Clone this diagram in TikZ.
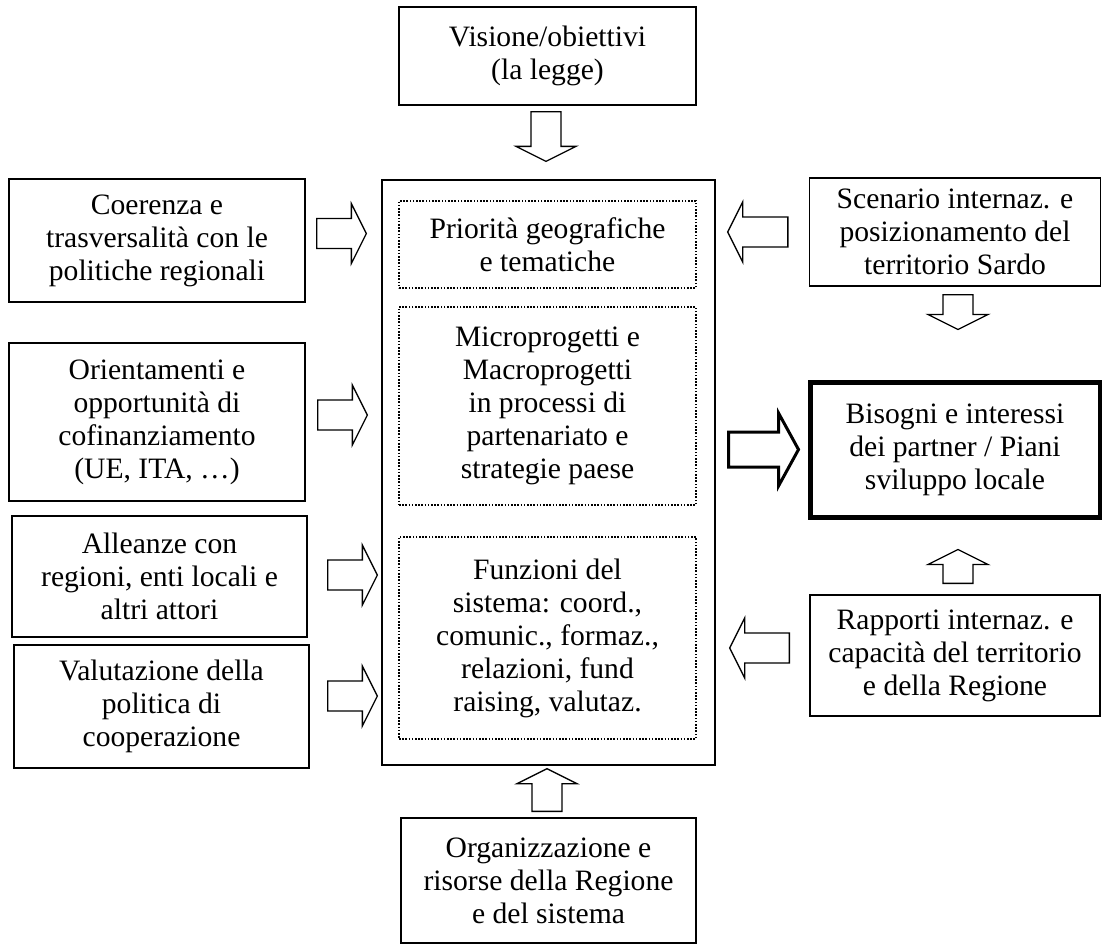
\documentclass[tikz,border=0pt]{standalone}
\usepackage{fontspec}
\setmainfont{Liberation Serif}
\usepackage{tikz}
\usetikzlibrary{calc}

\tikzset{
    box/.style={draw, line width=0.65pt, align=center, inner sep=0pt,
      font=\fontsize{14.8}{16.5}\selectfont},
    dotbox/.style={box, line width=0.8pt, dash pattern=on 0.8pt off 0.8pt},
    boldbox/.style={box, line width=2.5pt},
    wh/.style 2 args={minimum width=#1*0.5pt, minimum height=#2*0.5pt}
}

% block arrow from #2 (tail) to #3 (tip)
\newcommand{\aw}{7.5pt}
\newcommand{\ah}{15pt}
\newcommand{\al}{7.5pt}
\newcommand{\fatarrow}[3][]{%
    \draw[line width=0.65pt, line join=miter, #1] let \p1=(#2), \p2=(#3),
      \n1={veclen(\x2-\x1,\y2-\y1)}, \n2={atan2(\y2-\y1,\x2-\x1)} in
      [shift={(\p1)}, rotate=\n2]
      (0pt,-\aw) -- ({\n1-\al},-\aw) -- ({\n1-\al},-\ah) -- (\n1,0pt)
      -- ({\n1-\al},\ah) -- ({\n1-\al},\aw) -- (0pt,\aw) -- cycle;}

\begin{document}
\begin{tikzpicture}[x=0.5pt, y=-0.5pt]
    \useasboundingbox (0,0) rectangle (1102,944);

    \node[box, wh={297}{98}] (vis) at (547.5,56) {Visione/obiettivi\\(la legge)};

    \node[box, wh={333}{585}] (core) at (548.5,472.5) {};
    \node[dotbox, wh={297}{87}] (prio) at (547.5,244.5)
      {Priorità geografiche\\e tematiche};
    \node[dotbox, wh={297}{198}] (micro) at (547.5,406)
      {Microprogetti e\\Macroprogetti\\in processi di\\partenariato e\\strategie paese};
    \node[dotbox, wh={297}{202}] (funz) at (547.5,638)
      {Funzioni del\\sistema: coord.,\\comunic., formaz.,\\relazioni, fund\\raising, valutaz.};

    \node[box, wh={296}{123}] (coer) at (157,240.5)
      {Coerenza e\\trasversalità con le\\politiche regionali};
    \node[box, wh={296}{158}] (orie) at (157,422)
      {Orientamenti e\\opportunità di\\cofinanziamento\\(UE, ITA, …)};
    \node[box, wh={295}{121}] (alle) at (159.5,576.5)
      {Alleanze con\\regioni, enti locali e\\altri attori};
    \node[box, wh={295}{123}] (valu) at (161.5,706.5)
      {Valutazione della\\politica di\\cooperazione};

    \node[box, wh={291}{108}] (scen) at (955,232)
      {Scenario internaz. e\\posizionamento del\\territorio Sardo};
    \node[boldbox, wh={290}{135}] (biso) at (955,449.5)
      {Bisogni e interessi\\dei partner / Piani\\sviluppo locale};
    \node[box, wh={290}{121}] (rapp) at (955,655.5)
      {Rapporti internaz. e\\capacità del territorio\\e della Regione};

    \node[box, wh={295}{125}] (orga) at (548.5,880.5)
      {Organizzazione e\\risorse della Regione\\e del sistema};

    % arrows into the central box
    \fatarrow{$(vis.south)+(-1.5,6)$}{$(vis.south |- core.north)+(-1.5,-18)$}
    \fatarrow{$(orga.north)+(-1.5,-6)$}{$(orga.north |- core.south)+(-1.5,3)$}
    \fatarrow{$(coer.east)+(11,-7)$}{$(coer.east -| core.west)+(-15,-7)$}
    \fatarrow{$(orie.east)+(12,-7)$}{$(orie.east -| core.west)+(-14,-7)$}
    \fatarrow{$(alle.east)+(20,-1.5)$}{$(alle.east -| core.west)+(-4,-1.5)$}
    \fatarrow{$(valu.east)+(18,-10.5)$}{$(valu.east -| core.west)+(-4,-10.5)$}
    \fatarrow{$(scen.west)+(-21,0)$}{$(scen.west -| core.east)+(12,0)$}
    \fatarrow{$(rapp.west)+(-20,-7.5)$}{$(rapp.west -| core.east)+(14,-7.5)$}

    % arrows into the needs box
    \fatarrow{$(scen.south)+(3,8)$}{$(biso.north)+(3,-50)$}
    \fatarrow{$(rapp.north)+(3,-11)$}{$(biso.south)+(3,30)$}
    {\renewcommand{\aw}{8.75pt}\renewcommand{\ah}{18.25pt}\renewcommand{\al}{10pt}
    \fatarrow[line width=1.5pt]{$(biso.west -| core.east)+(13,0)$}{$(biso.west)+(-9,0)$}}
\end{tikzpicture}
\end{document}
